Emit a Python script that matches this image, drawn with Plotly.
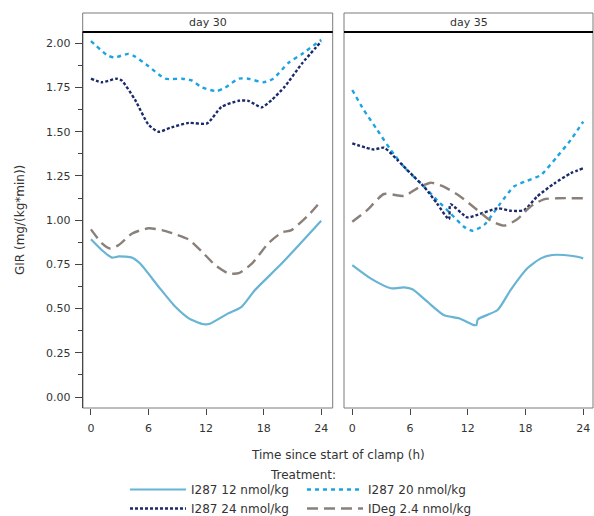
import plotly.graph_objects as go

# ---- Day 30 profiles (time in h, GIR in mg/(kg*min)) ----
t30_i12 = [0, 1.15, 2.2, 2.9, 4.3, 5.1, 7.05, 8.8, 10.2, 11.6, 12.3, 14.3, 15.7, 17.1, 19.9, 24]
gir30_i12 = [0.892, 0.83, 0.788, 0.795, 0.788, 0.756, 0.624, 0.51, 0.445, 0.413, 0.413, 0.473, 0.51, 0.605, 0.756, 0.997]

t30_i20 = [0, 1.67, 2.4, 3.9, 4.6, 6.0, 7.75, 9.5, 10.5, 11.6, 13.1, 14.0, 15.4, 16.4, 18.0, 19.0, 20.6, 22.0, 24]
gir30_i20 = [2.013, 1.934, 1.92, 1.94, 1.925, 1.87, 1.80, 1.80, 1.79, 1.75, 1.73, 1.75, 1.80, 1.80, 1.78, 1.80, 1.89, 1.94, 2.02]

t30_i24 = [0, 1.15, 2.7, 3.2, 4.6, 6.0, 7.05, 8.4, 10.2, 12.1, 13.6, 15.4, 16.4, 17.8, 18.85, 20.2, 22.0, 24]
gir30_i24 = [1.80, 1.78, 1.80, 1.79, 1.68, 1.54, 1.50, 1.525, 1.55, 1.547, 1.64, 1.675, 1.675, 1.638, 1.68, 1.755, 1.886, 2.01]

t30_ideg = [0, 1.15, 2.0, 2.9, 4.3, 6.0, 7.4, 8.8, 10.2, 11.6, 12.95, 14.3, 15.4, 16.8, 18.5, 19.9, 20.9, 22.7, 24]
gir30_ideg = [0.948, 0.869, 0.84, 0.86, 0.925, 0.954, 0.944, 0.92, 0.89, 0.82, 0.746, 0.70, 0.70, 0.756, 0.87, 0.93, 0.944, 1.03, 1.11]

# ---- Day 35 profiles ----
t35_i12 = [0, 1.9, 4.0, 5.4, 6.25, 7.8, 9.5, 11.1, 12.65, 12.9, 13.05, 15.1, 16.45, 18.2, 19.6, 20.8, 22.0, 23.4, 24]
gir35_i12 = [0.746, 0.671, 0.615, 0.62, 0.609, 0.539, 0.464, 0.445, 0.407, 0.407, 0.439, 0.492, 0.605, 0.728, 0.784, 0.803, 0.803, 0.793, 0.784]

t35_i20 = [0, 1.2, 2.6, 4.0, 5.4, 7.45, 8.8, 10.2, 11.6, 12.5, 13.7, 15.4, 16.8, 18.2, 19.6, 21.3, 22.7, 24]
gir35_i20 = [1.736, 1.623, 1.51, 1.397, 1.30, 1.19, 1.114, 1.039, 0.963, 0.94, 0.973, 1.095, 1.19, 1.223, 1.255, 1.36, 1.453, 1.557]

t35_i24 = [0, 2.25, 3.3, 4.7, 6.05, 7.45, 8.8, 10.05, 10.2, 11.95, 13.0, 15.1, 16.5, 17.85, 19.2, 21.0, 22.7, 24]
gir35_i24 = [1.434, 1.40, 1.41, 1.34, 1.265, 1.19, 1.095, 1.005, 1.09, 1.016, 1.03, 1.067, 1.053, 1.057, 1.133, 1.208, 1.265, 1.293]

t35_ideg = [0, 1.55, 3.3, 5.4, 6.75, 8.15, 9.5, 11.25, 13.0, 14.4, 15.8, 17.15, 18.5, 19.9, 21.3, 24]
gir35_ideg = [0.991, 1.057, 1.148, 1.137, 1.18, 1.212, 1.19, 1.133, 1.057, 0.997, 0.969, 1.005, 1.076, 1.118, 1.124, 1.124]

panel_titles = ["day 30", "day 35"]
x_ticks = [0, 6, 12, 18, 24]
treatments = ["I287 12 nmol/kg", "I287 20 nmol/kg", "I287 24 nmol/kg", "IDeg 2.4 nmol/kg"]

styles = {
    "I287 12 nmol/kg": dict(color="#67b4d3", dash="solid", width=2.2),
    "I287 20 nmol/kg": dict(color="#1ca4e2", dash="4px,4px", width=2.4),
    "I287 24 nmol/kg": dict(color="#1b2a6b", dash="3px,2px", width=2.4),
    "IDeg 2.4 nmol/kg": dict(color="#8a8079", dash="11px,6px", width=2.4),
}
# two legend columns: left column holds 12 & 24, right column 20 & IDeg
legend_column = {
    "I287 12 nmol/kg": "legend",
    "I287 24 nmol/kg": "legend",
    "I287 20 nmol/kg": "legend2",
    "IDeg 2.4 nmol/kg": "legend2",
}
legend_rank = {"I287 12 nmol/kg": 1, "I287 24 nmol/kg": 2, "I287 20 nmol/kg": 1, "IDeg 2.4 nmol/kg": 2}

series = {
    "I287 12 nmol/kg": ((t30_i12, gir30_i12), (t35_i12, gir35_i12)),
    "I287 20 nmol/kg": ((t30_i20, gir30_i20), (t35_i20, gir35_i20)),
    "I287 24 nmol/kg": ((t30_i24, gir30_i24), (t35_i24, gir35_i24)),
    "IDeg 2.4 nmol/kg": ((t30_ideg, gir30_ideg), (t35_ideg, gir35_ideg)),
}

W, H = 594, 516
FONT = "DejaVu Sans"
TXT = "#333333"


def px_x(p):
    return p / W


def px_y(p):
    return 1 - p / H


# panel geometry in pixels
left_px = [(82.7, 332.7), (344.0, 593.0)]
top_px, bottom_px, head_top_px = 32.0, 408.0, 13.0

fig = go.Figure()

for k in range(2):
    for name in treatments:
        st = styles[name]
        tx, gy = series[name][k]
        fig.add_trace(go.Scatter(
            x=tx, y=gy, mode="lines",
            line=dict(color=st["color"], dash=st["dash"], width=st["width"],
                      shape="spline", smoothing=0.6),
            name=name, showlegend=(k == 0),
            legend=legend_column[name], legendrank=legend_rank[name],
            xaxis="x" if k == 0 else "x2", yaxis="y" if k == 0 else "y2",
            hoverinfo="skip",
        ))

common_x = dict(
    tickvals=x_ticks, ticks="outside", ticklen=6, tickwidth=1, tickcolor="#444444",
    showline=False, showgrid=False, zeroline=False,
    tickfont=dict(family=FONT, size=11, color=TXT), ticklabelstandoff=4,
)
common_y = dict(
    range=[-0.062, 2.064],
    domain=[px_y(bottom_px), px_y(top_px)],
    showline=False, showgrid=False, zeroline=False,
)
legend_common = dict(
    orientation="v", yanchor="top", xanchor="left", y=px_y(475),
    font=dict(family=FONT, size=12, color=TXT), bgcolor="rgba(0,0,0,0)",
    itemwidth=56, tracegroupgap=0, traceorder="normal",
)

fig.update_layout(
    width=W, height=H,
    # keep the plot area fixed; the legend sits in the bottom strip
    margin=dict(l=0, r=0, t=0, b=0, autoexpand=False),
    paper_bgcolor="white", plot_bgcolor="white",
    font=dict(family=FONT, size=12, color=TXT),
    xaxis=dict(domain=[px_x(left_px[0][0]), px_x(left_px[0][1])], range=[-0.86, 25.2],
               anchor="y", **common_x),
    xaxis2=dict(domain=[px_x(left_px[1][0]), px_x(left_px[1][1])], range=[-0.86, 25.02],
                anchor="y2", **common_x),
    yaxis=dict(anchor="x", tick0=0, dtick=0.25, tickformat=".2f",
               ticks="outside", ticklen=7, tickwidth=1, tickcolor="#444444",
               minor=dict(tick0=0, dtick=0.125, ticks="outside", ticklen=4,
                          tickcolor="#444444", showgrid=False),
               tickfont=dict(family=FONT, size=11, color=TXT),
               ticklabelstandoff=2,
               **common_y),
    yaxis2=dict(anchor="x2", showticklabels=False, ticks="", **common_y),
    legend=dict(x=px_x(125), **legend_common),
    legend2=dict(x=px_x(302), **legend_common),
    showlegend=True,
)

shapes = []
annotations = []
for k, (x0, x1) in enumerate(left_px):
    # header cell
    shapes.append(dict(type="rect", xref="paper", yref="paper",
                       x0=px_x(x0), x1=px_x(x1), y0=px_y(top_px), y1=px_y(head_top_px),
                       line=dict(color="#7a7a7a", width=1), fillcolor="white", layer="below"))
    # panel frame
    shapes.append(dict(type="rect", xref="paper", yref="paper",
                       x0=px_x(x0), x1=px_x(x1), y0=px_y(bottom_px), y1=px_y(top_px),
                       line=dict(color="#7a7a7a", width=1), fillcolor="rgba(0,0,0,0)", layer="above"))
    # heavy rule under the header
    shapes.append(dict(type="line", xref="paper", yref="paper",
                       x0=px_x(x0), x1=px_x(x1), y0=px_y(top_px), y1=px_y(top_px),
                       line=dict(color="black", width=2), layer="above"))
    annotations.append(dict(text=panel_titles[k], xref="paper", yref="paper",
                            x=(px_x(x0) + px_x(x1)) / 2, y=px_y((top_px + head_top_px) / 2),
                            showarrow=False, xanchor="center", yanchor="middle",
                            font=dict(family=FONT, size=11, color=TXT)))

# darker value-axis line on the left panel
shapes.append(dict(type="line", xref="paper", yref="paper",
                   x0=px_x(left_px[0][0]), x1=px_x(left_px[0][0]),
                   y0=px_y(bottom_px), y1=px_y(top_px),
                   line=dict(color="#333333", width=1), layer="above"))

annotations.append(dict(text="GIR (mg/(kg*min))", xref="paper", yref="paper",
                        x=px_x(20), y=px_y((top_px + bottom_px) / 2), textangle=-90,
                        showarrow=False, xanchor="center", yanchor="middle",
                        font=dict(family=FONT, size=12, color=TXT)))
annotations.append(dict(text="Time since start of clamp (h)", xref="paper", yref="paper",
                        x=px_x((left_px[0][0] + left_px[1][1]) / 2), y=px_y(455),
                        showarrow=False, xanchor="center", yanchor="middle",
                        font=dict(family=FONT, size=12, color=TXT)))
annotations.append(dict(text="Treatment:", xref="paper", yref="paper",
                        x=px_x(303), y=px_y(475),
                        showarrow=False, xanchor="center", yanchor="middle",
                        font=dict(family=FONT, size=12, color=TXT)))

fig.update_layout(shapes=shapes, annotations=annotations)

fig.write_html("out.html")
